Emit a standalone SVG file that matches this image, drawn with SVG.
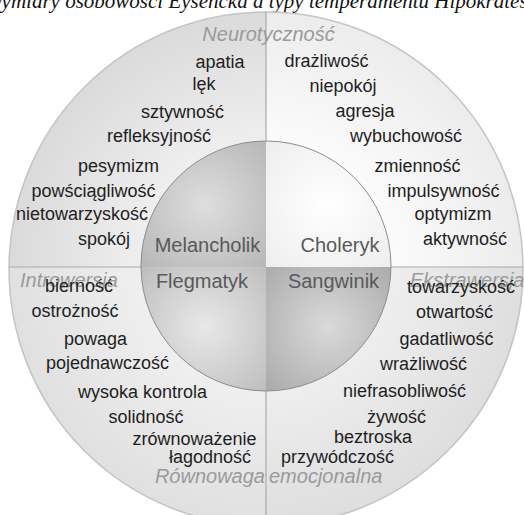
<svg xmlns="http://www.w3.org/2000/svg" width="524" height="515" viewBox="0 0 524 515">
<style>
.t{font-family:"Liberation Sans",Arial,sans-serif;font-size:18px;fill:#1e1e1e;text-anchor:middle}
.ty{font-family:"Liberation Sans",Arial,sans-serif;font-size:20px;fill:#595959;text-anchor:middle}
.ax{font-family:"Liberation Sans",Arial,sans-serif;font-size:20px;font-style:italic;fill:#9a9a9a}
.title{font-family:"Liberation Serif","Times New Roman",serif;font-size:21px;font-style:italic;fill:#111}
</style>
<defs>
<clipPath id="outerClip"><circle cx="266" cy="269" r="257"/></clipPath>
<clipPath id="innerClip"><circle cx="266" cy="266" r="125"/></clipPath>
<radialGradient id="oTL" gradientUnits="userSpaceOnUse" cx="266" cy="267" r="258">
<stop offset="0.45" stop-color="#f0f0f0"/><stop offset="1" stop-color="#dadada"/></radialGradient>
<radialGradient id="oTR" gradientUnits="userSpaceOnUse" cx="266" cy="267" r="258">
<stop offset="0.45" stop-color="#fcfcfc"/><stop offset="1" stop-color="#ececec"/></radialGradient>
<radialGradient id="oBL" gradientUnits="userSpaceOnUse" cx="266" cy="267" r="258">
<stop offset="0.45" stop-color="#f0f0f0"/><stop offset="1" stop-color="#e0e0e0"/></radialGradient>
<radialGradient id="oBR" gradientUnits="userSpaceOnUse" cx="266" cy="267" r="258">
<stop offset="0.45" stop-color="#efefef"/><stop offset="1" stop-color="#dedede"/></radialGradient>
<radialGradient id="iTL" gradientUnits="userSpaceOnUse" cx="205" cy="205" r="125">
<stop offset="0" stop-color="#dedede"/><stop offset="1" stop-color="#a6a6a6"/></radialGradient>
<radialGradient id="iTR" gradientUnits="userSpaceOnUse" cx="328" cy="205" r="125">
<stop offset="0" stop-color="#ffffff"/><stop offset="1" stop-color="#e6e6e6"/></radialGradient>
<radialGradient id="iBL" gradientUnits="userSpaceOnUse" cx="205" cy="327" r="125">
<stop offset="0" stop-color="#e8e8e8"/><stop offset="1" stop-color="#acacac"/></radialGradient>
<radialGradient id="iBR" gradientUnits="userSpaceOnUse" cx="328" cy="327" r="125">
<stop offset="0" stop-color="#dadada"/><stop offset="1" stop-color="#969696"/></radialGradient>
</defs>
<rect width="524" height="515" fill="#ffffff"/>
<text class="title" x="-14" y="7.5">Wymiary osobowości Eysencka a typy temperamentu Hipokratesa</text>
<g id="ring">
<g clip-path="url(#outerClip)">
<rect x="0" y="0" width="266" height="267" fill="url(#oTL)"/>
<rect x="266" y="0" width="258" height="267" fill="url(#oTR)"/>
<rect x="0" y="267" width="266" height="248" fill="url(#oBL)"/>
<rect x="266" y="267" width="258" height="248" fill="url(#oBR)"/>
</g>
<circle cx="266" cy="269" r="257" fill="none" stroke="#c4c4c4" stroke-width="1.5"/>
</g>
<g id="connectors" stroke="#aaaaaa" stroke-width="1.2">
<line x1="9" y1="267" x2="523" y2="267"/>
<line x1="266" y1="12" x2="266" y2="515"/>
</g>
<g id="core">
<g clip-path="url(#innerClip)">
<rect x="141" y="141" width="125" height="126" fill="url(#iTL)"/>
<rect x="266" y="141" width="125" height="126" fill="url(#iTR)"/>
<rect x="141" y="267" width="125" height="124" fill="url(#iBL)"/>
<rect x="266" y="267" width="125" height="124" fill="url(#iBR)"/>
</g>
<circle cx="266" cy="266" r="125" fill="none" stroke="#8c8c8c" stroke-width="1"/>
</g>
<g id="melancholik"><text class="ty" x="207.5" y="252">Melancholik</text></g>
<g id="choleryk"><text class="ty" x="340" y="252">Choleryk</text></g>
<g id="flegmatyk"><text class="ty" x="202" y="288">Flegmatyk</text></g>
<g id="sangwinik"><text class="ty" x="333.5" y="288">Sangwinik</text></g>
<g id="axes">
<text class="ax" x="268.5" y="41" text-anchor="middle">Neurotyczność</text>
<text class="ax" x="20" y="287">Introwersja</text>
<text class="ax" x="410" y="287">Ekstrawersja</text>
<text class="ax" x="265" y="483" text-anchor="end">Równowaga</text>
<text class="ax" x="269" y="483">emocjonalna</text>
</g>
<g id="traits-melancholik">
<text class="t" x="220" y="68">apatia</text>
<text class="t" x="204" y="90">lęk</text>
<text class="t" x="182.5" y="118">sztywność</text>
<text class="t" x="159" y="142">refleksyjność</text>
<text class="t" x="118.5" y="172">pesymizm</text>
<text class="t" x="93.5" y="197">powściągliwość</text>
<text class="t" x="82" y="220">nietowarzyskość</text>
<text class="t" x="104" y="245">spokój</text>
</g>
<g id="traits-choleryk">
<text class="t" x="326.5" y="67">drażliwość</text>
<text class="t" x="343" y="92">niepokój</text>
<text class="t" x="365" y="117">agresja</text>
<text class="t" x="406" y="142">wybuchowość</text>
<text class="t" x="417.5" y="172">zmienność</text>
<text class="t" x="443.5" y="197">impulsywność</text>
<text class="t" x="453" y="220">optymizm</text>
<text class="t" x="465" y="245">aktywność</text>
</g>
<g id="traits-flegmatyk">
<text class="t" x="79" y="292">bierność</text>
<text class="t" x="75" y="317">ostrożność</text>
<text class="t" x="95.5" y="345">powaga</text>
<text class="t" x="107.5" y="369">pojednawczość</text>
<text class="t" x="142.5" y="398">wysoka kontrola</text>
<text class="t" x="146" y="423">solidność</text>
<text class="t" x="194.5" y="445">zrównoważenie</text>
<text class="t" x="210" y="463">łagodność</text>
</g>
<g id="traits-sangwinik">
<text class="t" x="461" y="293">towarzyskość</text>
<text class="t" x="454.5" y="318">otwartość</text>
<text class="t" x="446.5" y="345">gadatliwość</text>
<text class="t" x="423.5" y="370">wrażliwość</text>
<text class="t" x="404.5" y="397">niefrasobliwość</text>
<text class="t" x="396.5" y="423">żywość</text>
<text class="t" x="373" y="443">beztroska</text>
<text class="t" x="337.5" y="463">przywódczość</text>
</g>
</svg>
